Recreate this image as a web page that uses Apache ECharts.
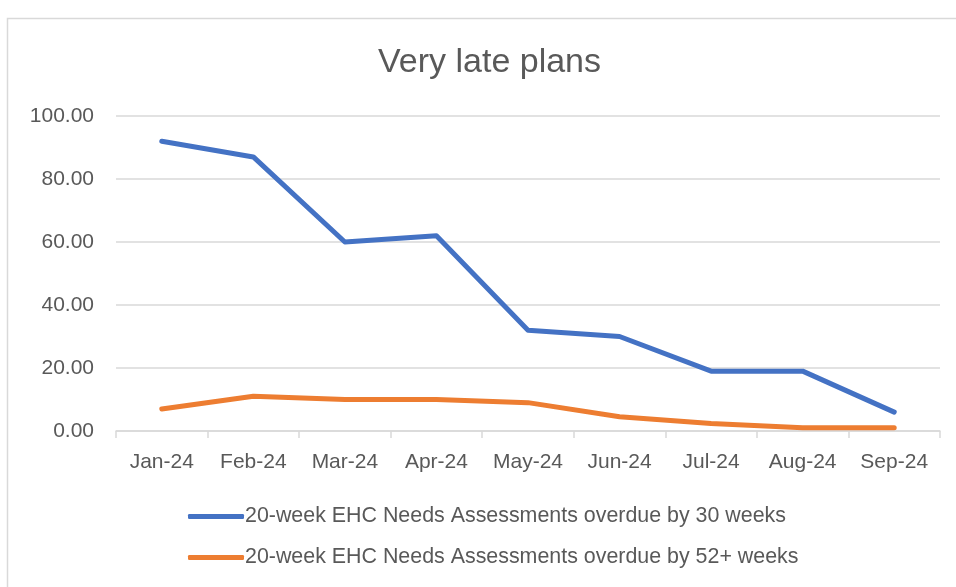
<!DOCTYPE html>
<html>
<head>
<meta charset="utf-8">
<script src="https://cdn.jsdelivr.net/npm/echarts@6/dist/echarts.min.js"></script>
<style>
html,body{margin:0;padding:0;background:#fff;}
#chart{width:956px;height:587px;}
</style>
</head>
<body>
<div id="chart"></div>
<script>
const categories = ['Jan-24','Feb-24','Mar-24','Apr-24','May-24','Jun-24','Jul-24','Aug-24','Sep-24'];
const overdue30 = [92, 87, 60, 62, 32, 30, 19, 19, 6];
const overdue52 = [7, 11, 10, 10, 9, 4.5, 2.4, 1, 1];
const seriesNames = ['20-week EHC Needs Assessments overdue by 30 weeks','20-week EHC Needs Assessments overdue by 52+ weeks'];
const yTicks = {min: 0, max: 100, interval: 20};

const FONT = "'Liberation Sans', Arial, sans-serif";
const chart = echarts.init(document.getElementById('chart'));
chart.setOption({
  animation: false,
  backgroundColor: '#ffffff',
  graphic: [{
    type: 'rect', left: 5, top: 16, silent: true,
    shape: {x: 0, y: 0, width: 1000, height: 1000},
    style: {fill: 'none', stroke: '#D9D9D9', lineWidth: 1.5}
  }],
  title: {
    text: 'Very late plans',
    left: 373,
    top: 41,
    textStyle: {fontFamily: FONT, fontWeight: 'normal', fontSize: 34, color: '#595959'}
  },
  grid: {left: 116, right: 16, top: 116, bottom: 156, containLabel: false},
  legend: {
    orient: 'vertical',
    left: 188,
    top: 506,
    padding: 0,
    itemWidth: 56,
    itemHeight: 5,
    itemGap: 20,
    icon: 'roundRect',
    textStyle: {fontFamily: FONT, fontSize: 21.4, color: '#595959', padding: [0,0,0,-4]},
    data: seriesNames
  },
  xAxis: {
    type: 'category',
    data: categories,
    boundaryGap: true,
    axisLine: {lineStyle: {color: '#D9D9D9', width: 1.5}},
    axisTick: {show: true, length: 7, lineStyle: {color: '#D9D9D9', width: 1.5}},
    axisLabel: {fontFamily: FONT, fontSize: 21, color: '#595959', margin: 21}
  },
  yAxis: {
    type: 'value',
    min: yTicks.min, max: yTicks.max, interval: yTicks.interval,
    axisLine: {show: false},
    axisTick: {show: false},
    splitLine: {lineStyle: {color: '#D9D9D9', width: 1.5}},
    axisLabel: {fontFamily: FONT, fontSize: 21, color: '#595959', margin: 22,
      formatter: v => v.toFixed(2)}
  },
  series: [
    {name: seriesNames[0], type: 'line', data: overdue30, symbol: 'none',
     lineStyle: {color: '#4472C4', width: 5, cap: 'round', join: 'round'}, itemStyle: {color: '#4472C4'}},
    {name: seriesNames[1], type: 'line', data: overdue52, symbol: 'none',
     lineStyle: {color: '#ED7D31', width: 5, cap: 'round', join: 'round'}, itemStyle: {color: '#ED7D31'}}
  ]
});
</script>
</body>
</html>
